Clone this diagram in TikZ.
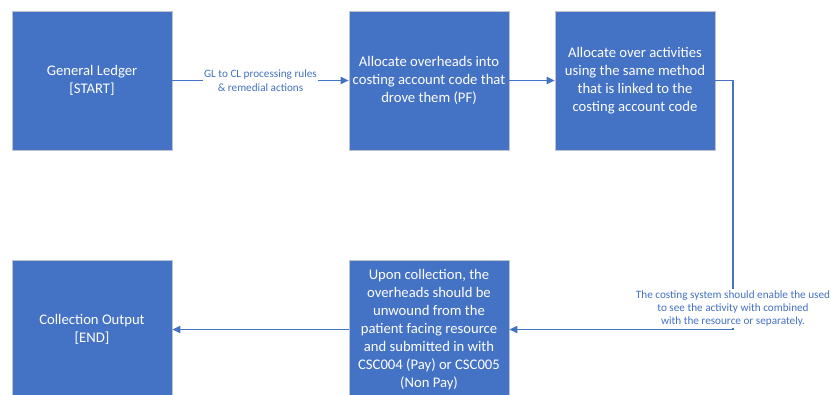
\documentclass[tikz,border=0pt]{standalone}
\usepackage{fontspec}
\setmainfont{Carlito}
\usetikzlibrary{arrows.meta}
\definecolor{boxblue}{HTML}{4472C4}
\definecolor{linkblue}{HTML}{4472C4}
\definecolor{boxedge}{HTML}{BFC3CF}
\begin{document}
\begin{tikzpicture}[x=0.75pt,y=-0.75pt,
  box/.style={draw=boxedge, line width=0.6pt, fill=boxblue, text=white,
    minimum width=120pt, minimum height=104.25pt, inner sep=0pt,
    align=center, font=\fontsize{11}{13.4}\selectfont},
  conn/.style={draw=linkblue, line width=0.8pt},
  arr/.style={conn, -{Triangle[length=6pt,width=5.5pt]}},
  lbl/.style={fill=white, text=linkblue, align=center, inner sep=1pt,
    font=\fontsize{8.4}{10.1}\selectfont}]
\path[use as bounding box] (0,0) rectangle (831,394);
\clip (0,0) rectangle (831,394);
\node[box] (gl) at (92,80.5) {General Ledger\\{[START]}};
\node[box] (alloc1) at (429,80.5) {Allocate overheads into\\costing account code that\\drove them (PF)};
\node[box] (alloc2) at (635,80.5) {Allocate over activities\\using the same method\\that is linked to the\\costing account code};
\node[box] (out) at (92,329.5) {Collection Output\\{[END]}};
\node[box] (coll) at (429,329.5) {Upon collection, the\\overheads should be\\unwound from the\\patient facing resource\\and submitted in with\\CSC004 (Pay) or CSC005\\(Non Pay)};
\coordinate (turn) at (733,80.5);
\draw[arr] (gl.east) -- node[lbl] (l1) {GL to CL processing rules\\\& remedial actions} (alloc1.west);
\draw[arr] (alloc1.east) -- (alloc2.west);
\draw[arr] (alloc2.east) -- (turn) -- (turn |- coll.east) -- (coll.east);
\node[lbl] (l2) at (733,308.5) {The costing system should enable the used\\to see the activity with combined\\with the resource or separately.};
\draw[arr] (coll.west) -- (out.east);
\end{tikzpicture}
\end{document}
